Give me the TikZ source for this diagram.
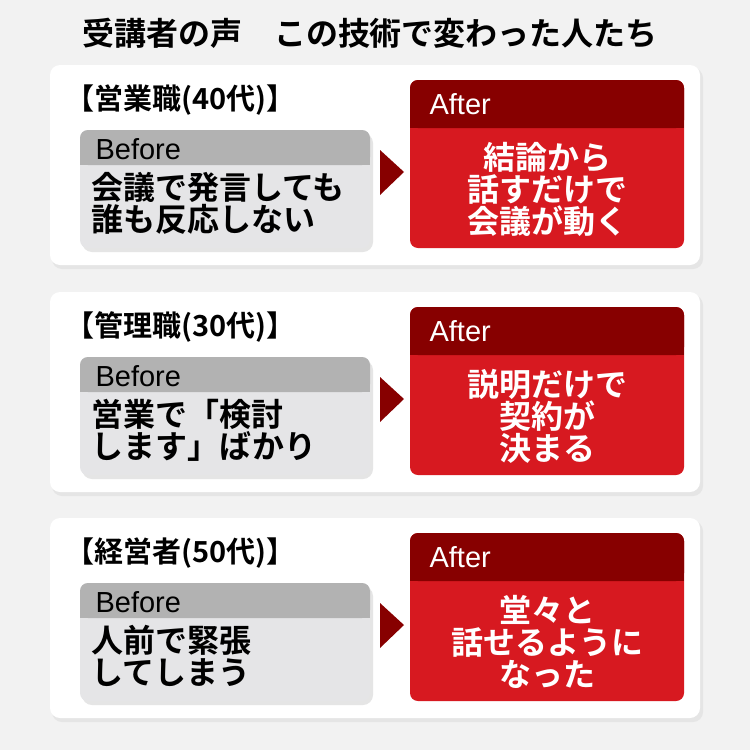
\documentclass[tikz,border=0pt]{standalone}
\usepackage{fontspec}
\setmainfont{Noto Sans CJK JP}[BoldFont={Noto Sans CJK JP Bold}]
\newfontfamily\latinfont{Liberation Sans}
\usetikzlibrary{positioning}
\definecolor{Paper}{HTML}{F2F2F2}
\definecolor{BeforeHead}{HTML}{B2B2B2}
\definecolor{BeforeBody}{HTML}{E5E5E7}
\definecolor{AfterHead}{HTML}{870000}
\definecolor{AfterBody}{HTML}{D71920}
\tikzset{
  card/.style={fill=white, rounded corners=10pt},
  shadow/.style={fill=black!10, rounded corners=10pt},
  boxhead/.style={rounded corners=8pt},
  headtext/.style={anchor=west, font=\latinfont\fontsize{29}{30}\selectfont},
  bodytext/.style={font=\bfseries\fontsize{32}{32}\selectfont, align=left},
  title/.style={font=\bfseries\fontsize{32}{32}\selectfont},
}
\begin{document}
\begin{tikzpicture}[x=1pt, y=-1pt]
  % background
  \fill[Paper] (0,0) rectangle (750,750);

  \node[title] (ttl) at (370,33) {受講者の声　この技術で変わった人たち};

  \foreach \dy/\who/\before [count=\i] in {
    0/{【営業職(40代)】}/{会議で発言しても\\誰も反応しない},
    227/{【管理職(30代)】}/{営業で「検討\\します」ばかり},
    453/{【経営者(50代)】}/{人前で緊張\\してしまう}}
  {
    \begin{scope}[yshift=-\dy pt]
      % card
      \fill[shadow] (52,68) rectangle (703,269);
      \fill[card] (50,65) rectangle (700,265);
      \node[title, anchor=west, font=\bfseries\fontsize{29}{30}\selectfont] (who\i) at (62,100) {\who};

      % before box
      \fill[shadow] (82,133) rectangle (373,252);
      \fill[BeforeBody, rounded corners=8pt] (80,130) rectangle (370,248);
      \fill[BeforeHead, boxhead] (80,130) rectangle (370,165);
      \fill[BeforeHead] (80,150) rectangle (370,165);
      \node[headtext] (bh\i) at (92,149) {Before};
      \node[bodytext, anchor=north west] (bb\i) at (88,169) {\before};

      % arrow
      \fill[AfterHead] (380,150) -- (404,172) -- (380,195) -- cycle;

      % after box
      \fill[AfterBody, rounded corners=8pt] (410,80) rectangle (684,248);
      \fill[AfterHead, boxhead] (410,80) rectangle (684,128);
      \fill[AfterHead] (410,110) rectangle (684,128);
      \node[headtext, text=white] (ah\i) at (426,104) {After};
    \end{scope}
  }
  % after texts (line counts differ)
  \node[bodytext, align=center, text=white] (ab1) at (547,189) {結論から\\話すだけで\\会議が動く};
  \node[bodytext, align=center, text=white] (ab2) at (547,416) {説明だけで\\契約が\\決まる};
  \node[bodytext, align=center, text=white] (ab3) at (547,642) {堂々と\\話せるように\\なった};
\end{tikzpicture}
\end{document}
